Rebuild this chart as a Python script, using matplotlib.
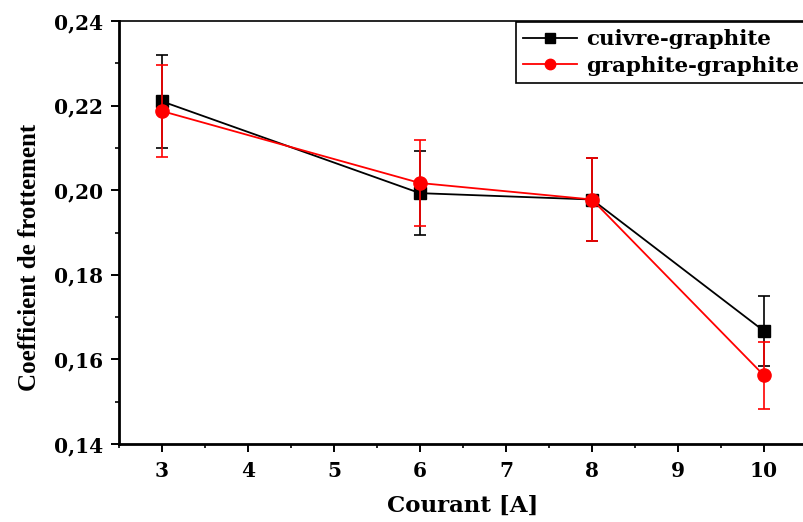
import matplotlib
matplotlib.use("Agg")
import matplotlib.pyplot as plt
from matplotlib.lines import Line2D
from matplotlib.ticker import MultipleLocator, FuncFormatter

# Friction coefficient vs. current
courant = [3, 6, 8, 10]
cuivre_graphite = [0.2210, 0.1993, 0.1978, 0.1667]
cuivre_graphite_err = [0.0110, 0.0100, 0.0099, 0.0083]
graphite_graphite = [0.2187, 0.2017, 0.1978, 0.1562]
graphite_graphite_err = [0.0109, 0.0102, 0.0099, 0.0079]
labels = ["cuivre-graphite", "graphite-graphite"]

wide_serif = ["DejaVu Serif", "Liberation Serif"]
narrow_serif = ["Liberation Serif", "DejaVu Serif"]
plt.rcParams["font.family"] = wide_serif
plt.rcParams["font.weight"] = "bold"

fig = plt.figure(figsize=(8.04, 5.22), dpi=100)
ax = fig.add_axes([119 / 804, 78 / 522, 688 / 804, 423 / 522])

ax.errorbar(courant, cuivre_graphite, yerr=cuivre_graphite_err, color="black",
            marker="s", markersize=8.5, linewidth=1.3, elinewidth=1.2,
            capsize=4.3, capthick=1.2, zorder=3)
ax.errorbar(courant, graphite_graphite, yerr=graphite_graphite_err, color="red",
            marker="o", markersize=9.5, linewidth=1.3, elinewidth=1.2,
            capsize=4.3, capthick=1.2, zorder=4)

ax.set_xlim(2.5, 10.5)
ax.set_ylim(0.14, 0.24)
ax.xaxis.set_major_locator(MultipleLocator(1))
ax.xaxis.set_minor_locator(MultipleLocator(0.5))
ax.yaxis.set_major_locator(MultipleLocator(0.02))
ax.yaxis.set_minor_locator(MultipleLocator(0.01))
ax.yaxis.set_major_formatter(FuncFormatter(lambda v, p: f"{v:.2f}".replace(".", ",")))

ax.tick_params(which="major", direction="out", length=5.5, width=1.4, labelsize=14.5)
ax.tick_params(axis="x", which="major", pad=6.5)
ax.tick_params(axis="y", which="major", pad=6)
ax.tick_params(which="minor", direction="out", length=3, width=1.2)
for lab in ax.get_xticklabels() + ax.get_yticklabels():
    lab.set_fontweight("bold")

ax.spines["left"].set_linewidth(2.0)
ax.spines["bottom"].set_linewidth(2.0)
ax.spines["top"].set_linewidth(1.2)
ax.spines["right"].set_linewidth(1.2)

ax.set_xlabel("Courant [A]", fontsize=16.5, fontweight="bold", labelpad=10)
ax.set_ylabel("Coefficient de frottement", fontsize=18, fontweight="bold",
              family=narrow_serif)
ax.yaxis.set_label_coords(-0.113, 0.442)

handles = [
    Line2D([], [], color="black", marker="s", markersize=6.5, linewidth=1.3),
    Line2D([], [], color="red", marker="o", markersize=7.5, linewidth=1.3),
]
leg = ax.legend(handles, labels, loc="upper left",
                bbox_to_anchor=(516 / 804, 1 - 22 / 522),
                bbox_transform=fig.transFigure, borderaxespad=0, frameon=True,
                fancybox=False, edgecolor="black", framealpha=1,
                prop={"size": 15.4, "weight": "bold"}, handlelength=2.5,
                borderpad=0.35, labelspacing=0.3, handletextpad=0.45)
leg.get_frame().set_linewidth(1.2)

fig.savefig("out.png", dpi=100)
